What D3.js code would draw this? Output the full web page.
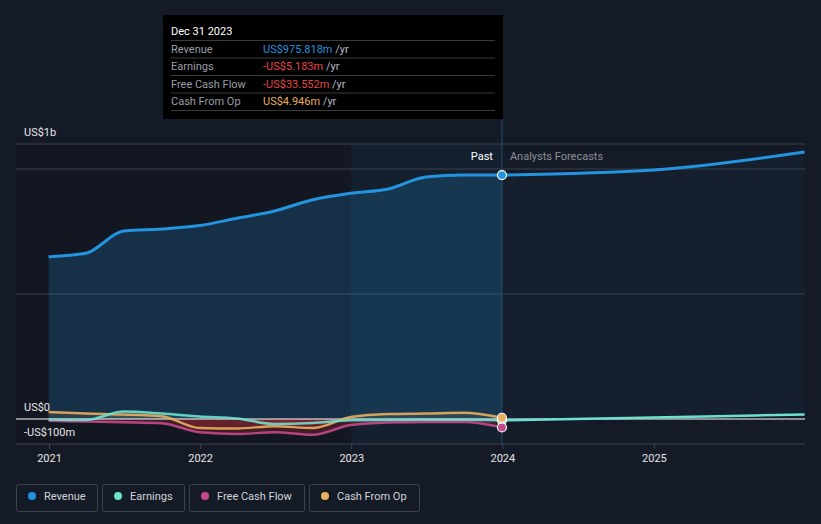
<!DOCTYPE html>
<html>
<head>
<meta charset="utf-8">
<script src="https://cdn.jsdelivr.net/npm/d3@7"></script>
<style>
  body { margin: 0; background: #151b26; }
  svg text { font-family: Roboto, "Noto Sans", sans-serif; }
</style>
</head>
<body>
<div id="chart"></div>
<script>
// quarterly history (US$ m)
const dates = ["2020-12-31", "2021-03-31", "2021-06-30", "2021-09-30", "2021-12-31", "2022-03-31", "2022-06-30",
  "2022-09-30", "2022-12-31", "2023-03-31", "2023-06-30", "2023-09-30", "2023-12-31"];
const revenue = [649, 663, 752, 760, 774, 803, 832, 877, 903, 920, 968, 976, 975.818];
const earnings = [-2, -4, 30, 22, 10, 2, -20, -16, -5, -4, -3, -3, -5.183];
const freeCashFlow = [-7, -10, -13, -17, -53, -60, -53, -63, -24, -14, -12, -12, -33.552];
const cashFromOp = [28, 22, 18, 11, -36, -38, -29, -36, 8, 20, 22, 25, 4.946];

// analyst forecasts
const forecastDates = ["2023-12-31", "2024-12-31", "2025-12-31"];
const revenueForecast = [975.818, 996, 1068];
const earningsForecast = [-5.183, 6, 18];

const yearTicks = ["2021", "2022", "2023", "2024", "2025"];
const yTickValues = [1100, 0, -100];
const yTickLabels = ["US$1b", "US$0", "-US$100m"];
const gridValues = [1100, 1000, 500];

const seriesNames = ["Revenue", "Earnings", "Free Cash Flow", "Cash From Op"];
const seriesColors = ["#2394df", "#6ee0cf", "#c5488c", "#e9ad5d"];

const tipDate = "Dec 31 2023";
const tipValues = ["US$975.818m", "-US$5.183m", "-US$33.552m", "US$4.946m"];
const tipColors = ["#2394df", "#e64545", "#e64545", "#e9ad5d"];

const width = 821, height = 524;
const parse = d3.timeParse("%Y-%m-%d");

const svg = d3.select("#chart").append("svg")
  .attr("width", width).attr("height", height);

const x = d3.scaleTime()
  .domain([parse("2021-01-01"), parse("2026-01-01")])
  .range([49, 805]);
const y = d3.scaleLinear().domain([-100, 1100]).range([444, 144]);

const left = 16, right = 805;
const pastEnd = x(parse("2023-12-31"));

// background bands
svg.append("rect").attr("x", left).attr("y", y(1100))
  .attr("width", x(parse("2023-01-01")) - left).attr("height", y(-100) - y(1100))
  .attr("fill", "#000").attr("opacity", 0.12);
svg.append("rect").attr("x", x(parse("2023-01-01"))).attr("y", y(1100))
  .attr("width", pastEnd - x(parse("2023-01-01"))).attr("height", y(-100) - y(1100))
  .attr("fill", "#2a7fc0").attr("opacity", 0.06);

// grid
svg.selectAll(".grid").data(gridValues).enter().append("line")
  .attr("x1", left).attr("x2", right)
  .attr("y1", d => y(d)).attr("y2", d => y(d))
  .attr("stroke", "#3a404b").attr("stroke-width", 1);

const hist = dates.map((d, i) => ({
  date: parse(d), revenue: revenue[i], earnings: earnings[i],
  fcf: freeCashFlow[i], cfo: cashFromOp[i]
}));
const fc = forecastDates.map((d, i) => ({
  date: parse(d), revenue: revenueForecast[i], earnings: earningsForecast[i]
}));

const curve = d3.curveMonotoneX;

// revenue areas
svg.append("path").datum(hist)
  .attr("d", d3.area().curve(curve).x(d => x(d.date)).y0(y(0)).y1(d => y(d.revenue)))
  .attr("fill", "#2394df").attr("opacity", 0.2);
svg.append("path").datum(fc)
  .attr("d", d3.area().curve(curve).x(d => x(d.date)).y0(y(0)).y1(d => y(d.revenue)))
  .attr("fill", "#2394df").attr("opacity", 0.04);

// small series areas (red below zero)
const defs = svg.append("defs");
defs.append("clipPath").attr("id", "below").append("rect")
  .attr("x", 0).attr("y", y(0)).attr("width", width).attr("height", 100);
defs.append("clipPath").attr("id", "above").append("rect")
  .attr("x", 0).attr("y", 0).attr("width", width).attr("height", y(0));

["earnings", "fcf", "cfo"].forEach((k, i) => {
  const a = d3.area().curve(curve).x(d => x(d.date)).y0(y(0)).y1(d => y(d[k]));
  svg.append("path").datum(hist).attr("d", a)
    .attr("clip-path", "url(#below)").attr("fill", "#c0303a").attr("opacity", 0.28);
  svg.append("path").datum(hist).attr("d", a)
    .attr("clip-path", "url(#above)").attr("fill", seriesColors[i + 1]).attr("opacity", 0.12);
});

// zero line and bottom axis
svg.append("line").attr("x1", left).attr("x2", right)
  .attr("y1", y(0)).attr("y2", y(0)).attr("stroke", "#ffffff").attr("stroke-width", 1);

const xAxis = svg.append("g").attr("transform", `translate(0,${y(-100)})`)
  .call(d3.axisBottom(x)
    .tickValues(yearTicks.map(t => parse(t + "-01-01")))
    .tickFormat(d3.timeFormat("%Y"))
    .tickSize(5).tickSizeOuter(0));
xAxis.select(".domain").remove();
xAxis.append("line").attr("x1", left).attr("x2", right).attr("stroke", "#3f4550");
xAxis.selectAll(".tick line").attr("stroke", "#3f4550");
xAxis.selectAll(".tick text").attr("fill", "#e6e6e6").attr("font-size", 11).attr("dy", "0.9em");

// forecast divider
svg.append("line").attr("x1", pastEnd).attr("x2", pastEnd)
  .attr("y1", 120).attr("y2", y(-100)).attr("stroke", "#23506f").attr("stroke-width", 1);

// lines
const keys = ["revenue", "earnings", "fcf", "cfo"];
[3, 2, 1, 0].forEach(i => {
  const k = keys[i];
  svg.append("path").datum(hist)
    .attr("d", d3.line().curve(curve).x(d => x(d.date)).y(d => y(d[k])))
    .attr("fill", "none").attr("stroke", seriesColors[i]).attr("stroke-width", i === 0 ? 3 : 2.5)
    .attr("stroke-opacity", i === 0 ? 1 : 0.9);
});
[1, 0].forEach(i => {
  const k = keys[i];
  svg.append("path").datum(fc)
    .attr("d", d3.line().curve(curve).x(d => x(d.date)).y(d => y(d[k])))
    .attr("fill", "none").attr("stroke", seriesColors[i]).attr("stroke-width", i === 0 ? 3 : 2.5);
});

// end dots
const last = hist[hist.length - 1];
[1, 2, 3, 0].forEach(i => {
  svg.append("circle").attr("cx", x(last.date)).attr("cy", y(last[keys[i]]))
    .attr("r", 4.5).attr("fill", seriesColors[i]).attr("stroke", "#ffffff").attr("stroke-width", 1.2);
});

// y labels
svg.selectAll(".ylab").data(yTickValues).enter().append("text")
  .attr("x", 24).attr("y", d => y(d) - 12)
  .attr("dy", "0.35em").attr("fill", "#e6e6e6").attr("font-size", 11)
  .text((d, i) => yTickLabels[i]);

// past / forecast labels
svg.append("text").attr("x", pastEnd - 9).attr("y", 156).attr("dy", "0.35em")
  .attr("text-anchor", "end").attr("fill", "#ffffff").attr("font-size", 11).text("Past");
svg.append("text").attr("x", pastEnd + 8).attr("y", 156).attr("dy", "0.35em")
  .attr("fill", "#8a8f98").attr("font-size", 11).text("Analysts Forecasts");

// tooltip
const tip = svg.append("g").attr("transform", "translate(163,15)");
tip.append("rect").attr("width", 340).attr("height", 104).attr("fill", "#000000");
tip.append("text").attr("x", 8).attr("y", 16).attr("dy", "0.35em")
  .attr("fill", "#ffffff").attr("font-size", 11).text(tipDate);
const rowY = d3.scaleLinear().domain([0, 1]).range([34, 51.5]);
seriesNames.forEach((n, i) => {
  tip.append("line").attr("x1", 8).attr("x2", 332)
    .attr("y1", rowY(i) - 8.5).attr("y2", rowY(i) - 8.5).attr("stroke", "#3a3a3a");
  tip.append("text").attr("x", 8).attr("y", rowY(i)).attr("dy", "0.35em")
    .attr("fill", "#9a9ea6").attr("font-size", 11).text(n);
  const t = tip.append("text").attr("x", 100).attr("y", rowY(i)).attr("dy", "0.35em")
    .attr("font-size", 11);
  t.append("tspan").attr("fill", tipColors[i]).text(tipValues[i]);
  t.append("tspan").attr("fill", "#b8bcc4").text(" /yr");
});
tip.append("line").attr("x1", 8).attr("x2", 332)
  .attr("y1", rowY(4) - 8.5).attr("y2", rowY(4) - 8.5).attr("stroke", "#3a3a3a");

// legend
const legendX = [16, 102, 189, 309];
const legendW = [81, 82, 115, 110];
const lg = svg.selectAll(".lg").data(seriesNames).enter().append("g")
  .attr("transform", (d, i) => `translate(${legendX[i]},484)`);
lg.append("rect").attr("x", 0.5).attr("y", 0.5).attr("width", (d, i) => legendW[i]).attr("height", 27)
  .attr("rx", 2).attr("fill", "none").attr("stroke", "#3c424d");
lg.append("circle").attr("cx", 16).attr("cy", 12).attr("r", 4).attr("fill", (d, i) => seriesColors[i]);
lg.append("text").attr("x", 28).attr("y", 12).attr("dy", "0.35em")
  .attr("fill", "#d0d3d8").attr("font-size", 11).text(d => d);
</script>
</body>
</html>
